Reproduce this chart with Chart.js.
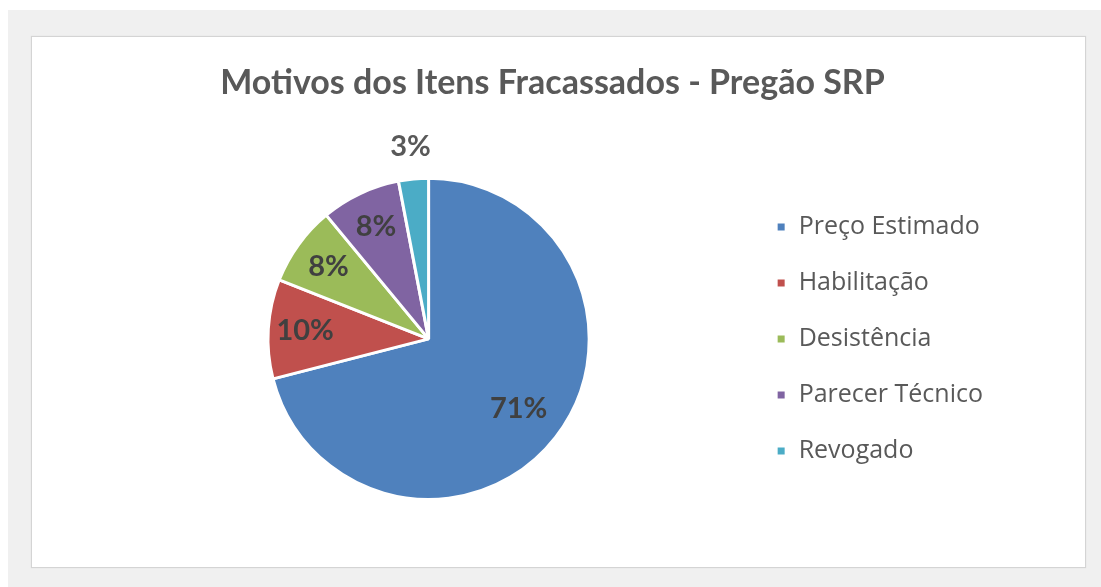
<!DOCTYPE html>
<html>
<head>
<meta charset="utf-8">
<script src="https://cdn.jsdelivr.net/npm/chart.js@4"></script>
<style>
  html, body { margin: 0; padding: 0; background: #fff; }
  body { width: 1101px; height: 587px; position: relative; overflow: hidden; }
  #back { position: absolute; left: 8px; top: 10px; right: 0; bottom: 0; background: #f0f0f0; }
  #box { position: absolute; left: 31px; top: 36px; width: 1055px; height: 532px; box-sizing: border-box;
         border: 1px solid #d4d4d4; background: #fff; box-shadow: 0 0 1px #dcdcdc; }
  #box canvas { display: block; }
</style>
</head>
<body>
<div id="back"></div>
<div id="box"><canvas id="pie" width="1053" height="530"></canvas></div>
<script>
// chart data
var motivos = ['Preço Estimado', 'Habilitação', 'Desistência', 'Parecer Técnico', 'Revogado'];
var percentuais = [71, 10, 8, 8, 3];
var cores = ['#4f81bd', '#c0504d', '#9bbb59', '#8064a2', '#4bacc6'];
var titulo = 'Motivos dos Itens Fracassados - Pregão SRP';

// draws "71%" etc on each slice, small slices go outside
var rotulos = {
  id: 'rotulos',
  afterDatasetsDraw: function(chart) {
    var ctx = chart.ctx;
    var meta = chart.getDatasetMeta(0);
    ctx.save();
    ctx.textAlign = 'center';
    ctx.textBaseline = 'middle';
    ctx.font = 'bold 29px Lato, "Open Sans", sans-serif';
    meta.data.forEach(function(arc, i) {
      var v = percentuais[i];
      var mid = (arc.startAngle + arc.endAngle) / 2;
      var f = v < 5 ? 1.2 : (v > 50 ? 0.71 : 0.77);
      var r = arc.outerRadius * f;
      ctx.fillStyle = v < 5 ? '#595959' : '#404040';
      ctx.fillText(v + '%', arc.x + Math.cos(mid) * r, arc.y + Math.sin(mid) * r);
    });
    ctx.restore();
  }
};

var chart = new Chart(document.getElementById('pie'), {
  type: 'pie',
  data: {
    labels: motivos,
    datasets: [{
      data: percentuais,
      backgroundColor: cores,
      borderColor: '#ffffff',
      borderWidth: 3
    }]
  },
  options: {
    responsive: false,
    animation: false,
    layout: { padding: { left: 80, right: 92, top: 0, bottom: 66 } },
    plugins: {
      title: {
        display: true,
        text: titulo,
        color: '#595959',
        font: { family: 'Lato, "Open Sans", sans-serif', size: 34, weight: 'bold' },
        padding: { top: 26, bottom: 73 }
      },
      legend: {
        position: 'right',
        fullSize: false,
        labels: {
          boxWidth: 10,
          boxHeight: 10,
          color: '#595959',
          padding: 31,
          font: { family: '"Open Sans", Lato, sans-serif', size: 25 }
        }
      },
      tooltip: { enabled: false }
    }
  },
  plugins: [rotulos]
});
</script>
</body>
</html>
